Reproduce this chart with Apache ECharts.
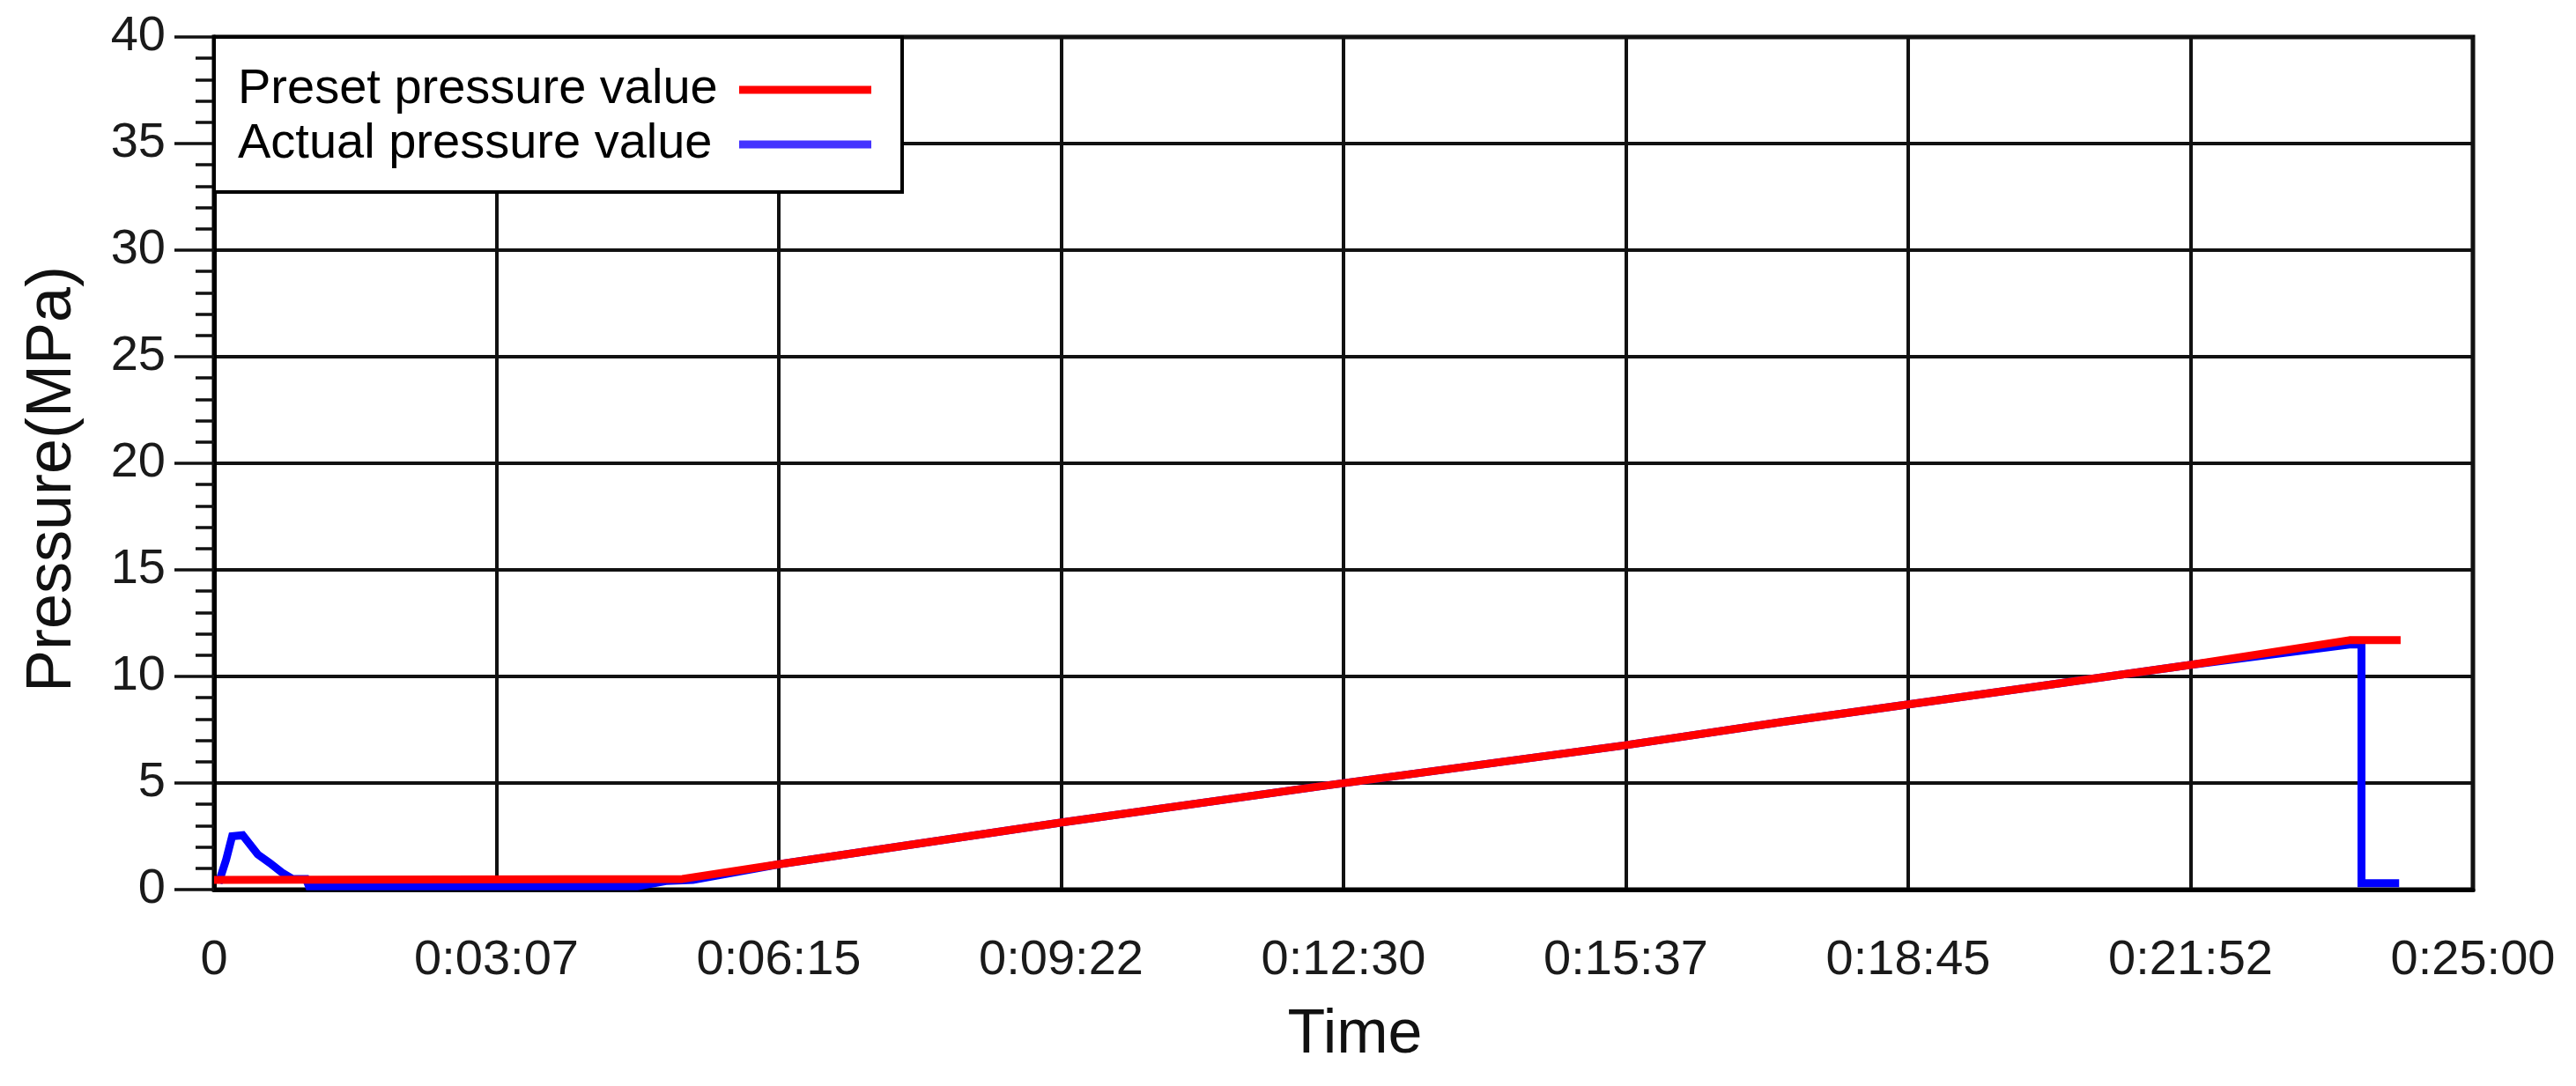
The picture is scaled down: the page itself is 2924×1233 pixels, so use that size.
<!DOCTYPE html>
<html>
<head>
<meta charset="utf-8">
<script src="https://cdn.jsdelivr.net/npm/echarts@6/dist/echarts.min.js"></script>
<style>
  html, body { margin: 0; padding: 0; background: #fff; }
  #chart { width: 2924px; height: 1233px; }
</style>
</head>
<body>
<div id="chart"></div>
<script>
// ---- Data (time in seconds, pressure in MPa) ----
const presetTime   = [0, 311, 376, 563, 735, 935, 1040, 1203, 1313, 1418, 1452];
const presetValues = [0.45, 0.5, 1.2, 3.15, 4.85, 6.75, 7.85, 9.45, 10.55, 11.7, 11.7];

const actualTime   = [3, 8, 12, 19, 29, 37, 45, 52, 61, 63, 281, 300, 318, 376, 563, 735, 935, 1040, 1203, 1313, 1418, 1426, 1426, 1451];
const actualValues = [0.3, 1.4, 2.5, 2.55, 1.65, 1.25, 0.8, 0.5, 0.5, 0.15, 0.15, 0.4, 0.45, 1.2, 3.15, 4.85, 6.75, 7.85, 9.45, 10.55, 11.5, 11.5, 0.3, 0.3];

const xTickLabels = ['0', '0:03:07', '0:06:15', '0:09:22', '0:12:30', '0:15:37', '0:18:45', '0:21:52', '0:25:00'];
const yTickLabels = ['0', '5', '10', '15', '20', '25', '30', '35', '40'];
const seriesNames = ['Preset pressure value', 'Actual pressure value'];

const FONT = '"Liberation Sans", Arial, sans-serif';
const zip = (xs, ys) => xs.map((x, i) => [x, ys[i]]);

// measure legend texts so that texts are left-aligned and icons line up
const mctx = document.createElement('canvas').getContext('2d');
mctx.font = '56px ' + FONT;
const LEGEND_TEXT_BLOCK = 564;
const padFor = (t) => Math.max(0, LEGEND_TEXT_BLOCK - mctx.measureText(t).width);

const chart = echarts.init(document.getElementById('chart'), null, { renderer: 'canvas' });
chart.setOption({
  animation: false,
  backgroundColor: '#ffffff',
  grid: {
    left: 243, right: 117, top: 42, bottom: 223,
    show: true, borderColor: '#000', borderWidth: 5, backgroundColor: 'transparent'
  },
  legend: {
    orient: 'vertical',
    left: 243, top: 42,
    align: 'right',
    padding: [29, 35, 23, 27],
    itemGap: 0,
    itemWidth: 150,
    itemHeight: 9,
    backgroundColor: '#fff',
    borderColor: '#000',
    borderWidth: 4,
    borderRadius: 0,
    z: 10,
    textStyle: { fontFamily: FONT, fontSize: 56, color: '#000', lineHeight: 62 },
    data: [
      { name: seriesNames[0], icon: 'rect', itemStyle: { color: '#ff0000' },
        textStyle: { fontFamily: FONT, fontSize: 56, color: '#000', lineHeight: 62, padding: [0, padFor(seriesNames[0]), 0, 0] } },
      { name: seriesNames[1], icon: 'rect', itemStyle: { color: '#4433ff' },
        textStyle: { fontFamily: FONT, fontSize: 56, color: '#000', lineHeight: 62, padding: [0, padFor(seriesNames[1]), 0, 0] } }
    ]
  },
  xAxis: {
    type: 'value',
    min: 0, max: 1500, interval: 187.5,
    name: 'Time',
    nameLocation: 'middle',
    nameGap: 131,
    nameTextStyle: { fontFamily: FONT, fontSize: 70, color: '#111', padding: [0, 0, 0, 26] },
    axisLine: { show: true, lineStyle: { color: '#000', width: 5 } },
    axisTick: { show: false },
    axisLabel: {
      margin: 53, fontFamily: FONT, fontSize: 56, color: '#1a1a1a',
      formatter: (v) => xTickLabels[Math.round(v / 187.5)]
    },
    splitLine: { show: true, lineStyle: { color: '#111', width: 4 } }
  },
  yAxis: {
    type: 'value',
    min: 0, max: 40, interval: 5,
    name: 'Pressure(MPa)',
    nameLocation: 'middle',
    nameGap: 147,
    nameTextStyle: { fontFamily: FONT, fontSize: 72, color: '#111', padding: [0, 36, 0, 0] },
    axisLine: { show: true, lineStyle: { color: '#000', width: 5 } },
    axisTick: { show: true, inside: false, length: 45, lineStyle: { color: '#111', width: 3.5 } },
    minorTick: { show: true, splitNumber: 5, length: 21, lineStyle: { color: '#111', width: 3.5 } },
    axisLabel: {
      margin: 55, fontFamily: FONT, fontSize: 56, color: '#1a1a1a',
      formatter: (v) => yTickLabels[Math.round(v / 5)]
    },
    splitLine: { show: true, lineStyle: { color: '#111', width: 4 } }
  },
  series: [
    {
      name: seriesNames[1], type: 'line', data: zip(actualTime, actualValues),
      showSymbol: false, symbol: 'none', z: 3,
      lineStyle: { color: '#0000ff', width: 9, join: 'miter' },
      itemStyle: { color: '#0000ff' }
    },
    {
      name: seriesNames[0], type: 'line', data: zip(presetTime, presetValues),
      showSymbol: false, symbol: 'none', z: 4,
      lineStyle: { color: '#ff0000', width: 9 },
      itemStyle: { color: '#ff0000' }
    }
  ]
});
</script>
</body>
</html>
